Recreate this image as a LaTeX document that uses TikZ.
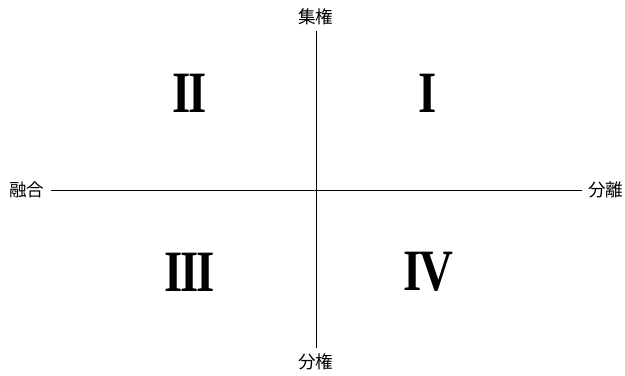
\documentclass[tikz,border=0pt]{standalone}
\usepackage{fontspec}
\newfontfamily\jpfont{Noto Sans CJK JP}
\newfontfamily\numfont[FakeStretch=0.8, LetterSpace=-4]{Liberation Serif}
\usepackage{tikz}
\usetikzlibrary{positioning}

\begin{document}
\begin{tikzpicture}[
  axislabel/.style={font=\jpfont\fontsize{15}{18}\selectfont, inner sep=5pt},
  quadnum/.style={font=\numfont\bfseries\fontsize{50}{54}\selectfont, inner sep=0pt},
  axisline/.style={line width=0.8pt}
]
  \useasboundingbox (-9.48,-5.58) rectangle (9.27,5.7);

  % axis labels
  \node[axislabel] (central)    at (0, 5.19)   {集権};
  \node[axislabel] (decentral)  at (0, -5.16)  {分権};
  \node[axislabel] (fusion)     at (-8.67, 0)  {融合};
  \node[axislabel] (separation) at (8.7, 0)    {分離};

  \draw[axisline] (central) -- (decentral);
  \draw[axisline] (fusion) -- (separation);

  % quadrants
  \node[quadnum] (q1) at (3.36, 2.91)   {I};
  \node[quadnum] (q2) at (-3.78, 2.91)  {II};
  \node[quadnum] (q3) at (-3.78, -2.46) {III};
  \node[quadnum] (q4) at (3.36, -2.46)  {IV};
\end{tikzpicture}
\end{document}
